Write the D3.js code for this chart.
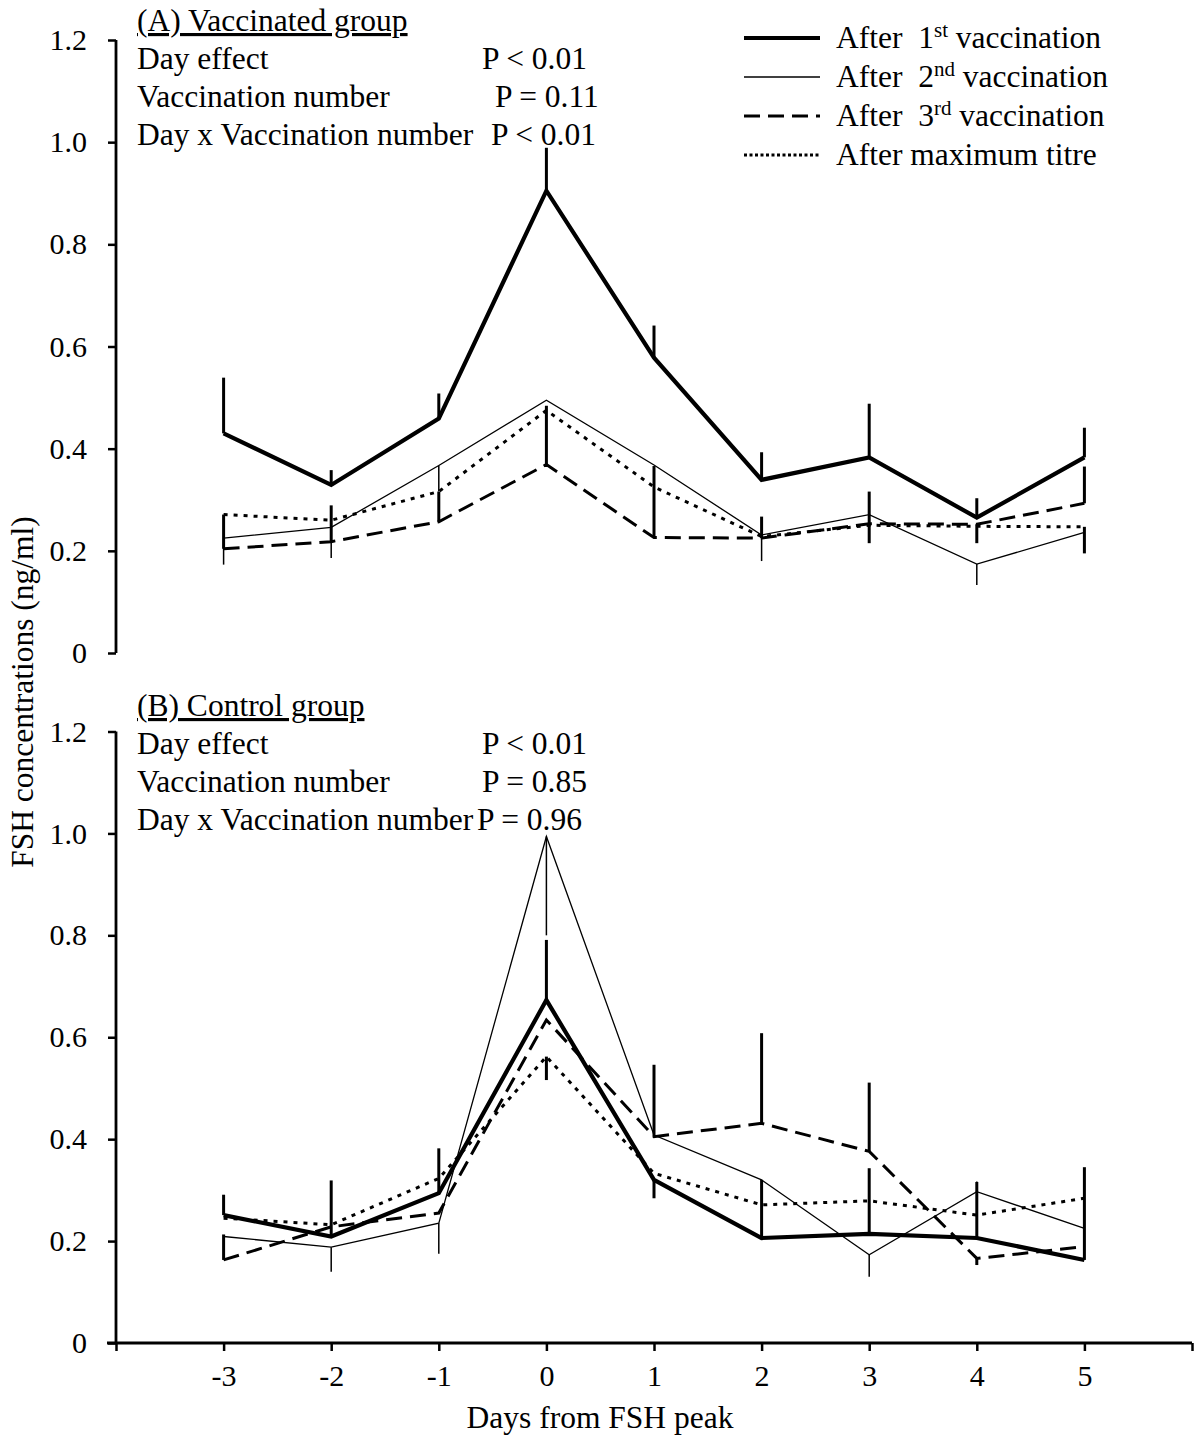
<!DOCTYPE html>
<html>
<head>
<meta charset="utf-8">
<script src="https://cdn.jsdelivr.net/npm/d3@7"></script>
<style>
  body { margin: 0; background: #fff; }
  svg { display: block; font-family: "Liberation Serif", "Times New Roman", serif; }
  text { fill: #000; }
</style>
</head>
<body>
<svg id="chart" width="1196" height="1435"></svg>
<script>
// dias respecto al pico de FSH
const days = [-3, -2, -1, 0, 1, 2, 3, 4, 5];
const xTicks = [-4, -3, -2, -1, 0, 1, 2, 3, 4, 5, 6];
const yTicks = [0, 0.2, 0.4, 0.6, 0.8, 1.0, 1.2];

// (A) grupo vacunado
const vacFirst  = [0.430, 0.329, 0.459, 0.905, 0.578, 0.339, 0.383, 0.265, 0.383];
const vacSecond = [0.225, 0.246, 0.367, 0.495, 0.368, 0.231, 0.271, 0.174, 0.236];
const vacThird  = [0.204, 0.218, 0.257, 0.369, 0.226, 0.225, 0.253, 0.252, 0.293];
const vacMax    = [0.271, 0.260, 0.316, 0.475, 0.325, 0.228, 0.250, 0.248, 0.247];
// error (positivo = hacia arriba, negativo = hacia abajo)
const vacFirstErr  = [0.109, 0.029, 0.049, 0.084, 0.063, 0.054, 0.105, 0.038, 0.058];
const vacSecondErr = [-0.052, -0.060, -0.051, 0, 0, -0.051, 0, -0.041, 0];
const vacThirdErr  = [0.067, 0.071, 0.059, 0.115, 0.140, 0.042, -0.038, -0.037, 0.072];
const vacMaxErr    = [0, 0, 0, 0, 0, 0, 0.066, 0, -0.052];

// (B) grupo control
const ctlFirst  = [0.251, 0.209, 0.294, 0.673, 0.320, 0.206, 0.214, 0.206, 0.163];
const ctlSecond = [0.209, 0.188, 0.235, 0.994, 0.408, 0.320, 0.173, 0.297, 0.225];
const ctlThird  = [0.163, 0.228, 0.255, 0.634, 0.405, 0.431, 0.376, 0.166, 0.189];
const ctlMax    = [0.245, 0.232, 0.323, 0.562, 0.333, 0.271, 0.279, 0.251, 0.284];
const ctlFirstErr  = [0.040, 0.110, 0.088, 0.118, -0.036, 0.114, 0.129, 0.110, 0.182];
const ctlSecondErr = [0, -0.048, -0.060, -0.194, 0, 0, -0.043, 0.020, 0];
const ctlThirdErr  = [0.050, 0, 0, 0, 0.141, 0.177, 0.135, -0.013, 0];
const ctlMaxErr    = [0, 0, 0, -0.046, 0, 0, 0, 0, 0];

const legendLabels = ['After  1', 'After  2', 'After  3', 'After maximum titre'];
const legendSup = ['st', 'nd', 'rd', ''];
const legendTail = [' vaccination', ' vaccination', ' vaccination', ''];

const statLabels = ['Day effect', 'Vaccination number', 'Day x Vaccination number'];
const vacP = ['P < 0.01', 'P = 0.11', 'P < 0.01'];
const ctlP = ['P < 0.01', 'P = 0.85', 'P = 0.96'];

// estilos de cada serie: 1a, 2a, 3a, titulo maximo
const estilos = [
  { w: 4.2, dash: null, errW: 3 },
  { w: 1.3, dash: null, errW: 1.5 },
  { w: 3, dash: '16,8', errW: 3 },
  { w: 3, dash: '4,6', errW: 3 },
];
const legendDash = [null, null, '16,8', '3,2.5'];

const FS = 31.5; // texto
const FT = 30;   // etiquetas de ejes

const svg = d3.select('#chart');
const x = d3.scaleLinear().domain([-4, 6]).range([116, 1192]);
const yA = d3.scaleLinear().domain([0, 1.2]).range([653, 40]);
const yB = d3.scaleLinear().domain([0, 1.2]).range([1343, 731.5]);

const drawPanel = (y, series, errs, title, titleY, pVals, pX) => {
  const g = svg.append('g');

  // eje Y
  const axis = g.append('g')
    .attr('transform', 'translate(116,0)')
    .call(d3.axisLeft(y).tickValues(yTicks).tickSize(8).tickPadding(21)
      .tickFormat(d => d === 0 ? '0' : d3.format('.1f')(d)));
  axis.select('.domain').attr('d', `M0,${y(1.2)}V${y(0)}`).attr('stroke-width', 2.8);
  axis.selectAll('.tick line').attr('stroke-width', 2.5);
  axis.selectAll('.tick text').attr('font-size', FT).attr('font-family', 'Liberation Serif').attr('fill', '#000');

  // barras de error
  series.forEach((vals, s) => {
    vals.forEach((v, i) => {
      if (!errs[s][i]) return;
      g.append('line')
        .attr('x1', x(days[i])).attr('x2', x(days[i]))
        .attr('y1', y(v)).attr('y2', y(v + errs[s][i]))
        .attr('stroke', '#000')
        .attr('stroke-width', estilos[s].errW);
    });
  });

  // lineas
  const linea = d3.line().x((d, i) => x(days[i])).y(d => y(d));
  series.forEach((vals, s) => {
    g.append('path')
      .datum(vals)
      .attr('d', linea)
      .attr('fill', 'none')
      .attr('stroke', '#000')
      .attr('stroke-width', estilos[s].w)
      .attr('stroke-dasharray', estilos[s].dash)
      .attr('stroke-linejoin', 'miter');
  });

  // titulo subrayado
  g.append('text')
    .attr('x', 137).attr('y', titleY)
    .attr('font-size', FS)
    .style('text-decoration', 'underline')
    .text(title);

  statLabels.forEach((t, i) => {
    g.append('text')
      .attr('x', 137).attr('y', titleY + 38 + i * 38)
      .attr('font-size', FS)
      .text(t);
    g.append('text')
      .attr('x', pX[i]).attr('y', titleY + 38 + i * 38)
      .attr('font-size', FS)
      .text(pVals[i]);
  });
};

drawPanel(yA, [vacFirst, vacSecond, vacThird, vacMax],
  [vacFirstErr, vacSecondErr, vacThirdErr, vacMaxErr],
  '(A) Vaccinated group', 31, vacP, [482, 495, 491]);
drawPanel(yB, [ctlFirst, ctlSecond, ctlThird, ctlMax],
  [ctlFirstErr, ctlSecondErr, ctlThirdErr, ctlMaxErr],
  '(B) Control group', 716, ctlP, [482, 482, 477]);

// eje X (solo en el panel B)
const xAxis = svg.append('g')
  .attr('transform', `translate(0,${yB(0)})`)
  .call(d3.axisBottom(x).tickValues(xTicks).tickSize(8).tickPadding(14)
    .tickFormat(d => (d >= -3 && d <= 5) ? String(d) : ''));
xAxis.select('.domain').attr('d', `M107,0H${x(6)}`).attr('stroke-width', 2.8);
xAxis.selectAll('.tick line').attr('stroke-width', 2.5);
xAxis.selectAll('.tick text').attr('font-size', FT).attr('font-family', 'Liberation Serif').attr('fill', '#000');

svg.append('text')
  .attr('x', 600).attr('y', 1428)
  .attr('text-anchor', 'middle')
  .attr('font-size', FS)
  .text('Days from FSH peak');

svg.append('text')
  .attr('transform', 'translate(33,692) rotate(-90)')
  .attr('text-anchor', 'middle')
  .attr('font-size', FS)
  .text('FSH concentrations (ng/ml)');

// leyenda
legendLabels.forEach((lab, i) => {
  const yy = 38 + i * 39;
  svg.append('line')
    .attr('x1', 744).attr('x2', 820)
    .attr('y1', yy).attr('y2', yy)
    .attr('stroke', '#000')
    .attr('stroke-width', i === 0 ? 4.2 : (i === 1 ? 1.5 : 3))
    .attr('stroke-dasharray', legendDash[i]);
  const t = svg.append('text')
    .attr('x', 836).attr('y', yy + 10)
    .attr('font-size', FS)
    .style('white-space', 'pre');
  t.append('tspan').text(lab);
  if (legendSup[i]) {
    t.append('tspan').attr('dy', -11).attr('font-size', 21).text(legendSup[i]);
    t.append('tspan').attr('dy', 11).text(legendTail[i]);
  }
});
</script>
</body>
</html>
